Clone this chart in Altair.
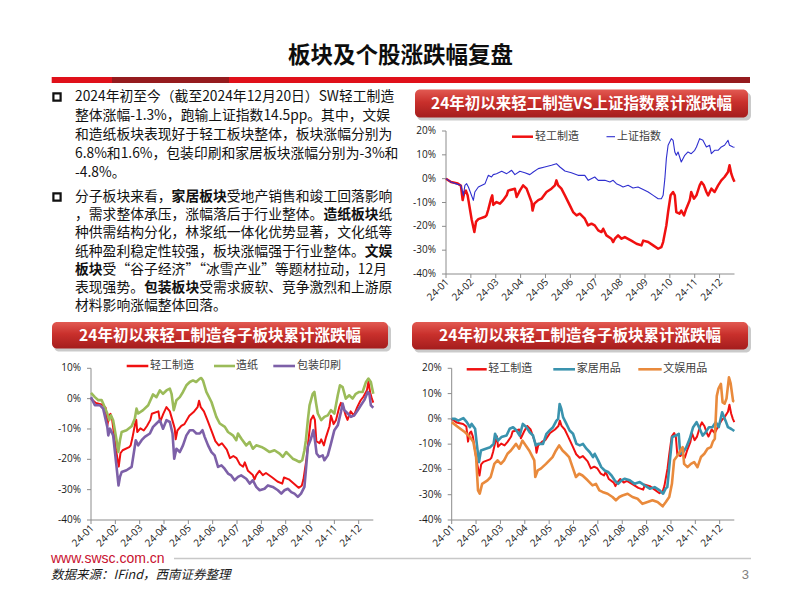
import re
import altair as alt
import pandas as pd

# ------------------------------------------------------------------ data
SLIDE_TITLE = "板块及个股涨跌幅复盘"
HEADER_TITLES = [
    "24年初以来轻工制造VS上证指数累计涨跌幅",
    "24年初以来轻工制造各子板块累计涨跌幅",
    "24年初以来轻工制造各子板块累计涨跌幅",
]
PARA1 = [
    "2024年初至今（截至2024年12月20日）SW轻工制造",
    "整体涨幅-1.3%，跑输上证指数14.5pp。其中，文娱",
    "和造纸板块表现好于轻工板块整体，板块涨幅分别为",
    "6.8%和1.6%，包装印刷和家居板块涨幅分别为-3%和",
    "-4.8%。",
]
PARA2 = [
    "分子板块来看，**家居板块**受地产销售和竣工回落影响",
    "，需求整体承压，涨幅落后于行业整体。**造纸板块**纸",
    "种供需结构分化，林浆纸一体化优势显著，文化纸等",
    "纸种盈利稳定性较强，板块涨幅强于行业整体。**文娱**",
    "**板块**受“谷子经济”“冰雪产业”等题材拉动，12月",
    "表现强势。**包装板块**受需求疲软、竞争激烈和上游原",
    "材料影响涨幅整体回落。",
]
FOOTER_URL = "www.swsc.com.cn"
FOOTER_SOURCE = "数据来源：IFind，西南证券整理"
PAGE_NO = "3"

MONTH_LABELS = ["24-01", "24-02", "24-03", "24-04", "24-05", "24-06",
                "24-07", "24-08", "24-09", "24-10", "24-11", "24-12"]
YTICKS_1 = [-40, -30, -20, -10, 0, 10, 20]
YTICKS_2 = [-40, -30, -20, -10, 0, 10]
YTICKS_3 = [-40, -30, -20, -10, 0, 10, 20]

NAME_LIGHT = "轻工制造"
NAME_SH = "上证指数"
NAME_PAPER = "造纸"
NAME_PACK = "包装印刷"
NAME_HOME = "家居用品"
NAME_ENT = "文娱用品"

# x = months since 2024-01-01 (axis position), y = cumulative change in %
LIGHT_M = [0, 0.2, 0.47, 0.6, 0.67, 0.74, 0.8, 0.87, 1.03, 1.14, 1.21, 1.3, 1.57, 1.63, 1.7, 1.81,
           1.86, 1.9, 2.03, 2.17, 2.3, 2.44, 2.5, 2.77, 2.84, 2.97, 3.1, 3.24, 3.44, 3.48, 3.55, 3.71,
           3.84, 4.04, 4.24, 4.38, 4.44, 4.51, 4.64, 4.78, 4.98, 5.11, 5.25, 5.38, 5.58, 5.71, 5.85,
           5.98, 6.12, 6.25, 6.32, 6.45, 6.65, 6.72, 6.79, 6.92, 7.06, 7.19, 7.45, 7.66, 7.86, 7.93,
           8.13, 8.33, 8.53, 8.66, 8.73, 8.86, 8.93, 9.03, 9.13, 9.2, 9.26, 9.39, 9.46, 9.57, 9.66,
           9.8, 9.86, 9.97, 10.07, 10.2, 10.27, 10.37, 10.47, 10.54, 10.67, 10.8, 10.94, 11.07, 11.2,
           11.34, 11.4, 11.47, 11.54, 11.6]
LIGHT_V = [0, -1.4, -2.0, -3.0, -9.0, -5.6, -5.0, -7.0, -17.0, -22.4, -18.0, -17.0, -16.0, -15.4,
           -13.0, -8.4, -7.0, -11.0, -9.8, -10.5, -9.0, -7.0, -5.0, -4.2, -7.7, -5.0, -2.8, -4.2,
           -9.8, -13.4, -10.5, -9.0, -8.4, -5.6, -4.2, -2.8, -0.7, -2.8, -4.2, -7.0, -11.2, -14.0,
           -15.4, -14.7, -16.8, -19.6, -18.9, -19.6, -21.7, -22.4, -21.0, -23.8, -25.2, -26.6, -25.2,
           -23.8, -25.2, -24.5, -26.0, -27.3, -28.0, -26.0, -26.6, -28.0, -29.4, -28.7, -26.6, -19.6,
           -14.0, -7.0, -5.6, -7.0, -14.0, -14.7, -13.4, -15.4, -12.6, -9.1, -5.6, -8.4, -7.0, -2.8,
           -1.4, -2.8, -5.6, -7.0, -4.2, -5.6, -2.8, -0.7, 0.7, 2.8, 5.6, 2.1, 0.0, -1.3]

SH_M = [0, 0.2, 0.47, 0.6, 0.7, 0.76, 0.83, 0.9, 1.1, 1.16, 1.3, 1.57, 1.7, 1.83, 1.9, 2.03, 2.24,
        2.44, 2.64, 2.77, 2.97, 3.17, 3.37, 3.51, 3.71, 3.97, 4.24, 4.44, 4.58, 4.78, 5.04, 5.31,
        5.58, 5.72, 5.98, 6.12, 6.39, 6.59, 6.72, 6.85, 6.99, 7.12, 7.32, 7.52, 7.72, 7.99, 8.13,
        8.33, 8.53, 8.66, 8.73, 8.8, 8.86, 8.93, 9.06, 9.13, 9.2, 9.26, 9.33, 9.46, 9.6, 9.73, 9.86,
        10.0, 10.07, 10.2, 10.33, 10.47, 10.6, 10.67, 10.8, 10.94, 11.07, 11.2, 11.34, 11.4, 11.54,
        11.6]
SH_V = [0, -1.4, -2.4, -2.8, -7.0, -2.8, -2.1, -3.5, -9.1, -5.6, -3.5, -2.1, 1.4, 0.7, 1.7, 2.1,
        3.1, 2.1, 3.5, 1.7, 3.1, 2.5, 1.7, 2.8, 4.2, 4.9, 5.6, 6.3, 4.9, 3.2, 2.5, 1.4, 1.4, -0.7,
        0.7, -0.7, -0.7, -1.4, -0.7, -2.1, -2.8, -3.5, -2.8, -3.9, -3.5, -4.9, -5.6, -7.0, -8.4,
        -8.4, -7.0, 0.0, 8.4, 14.0, 16.8, 16.1, 11.2, 9.8, 11.2, 7.0, 9.8, 11.2, 10.5, 11.9, 13.3,
        16.8, 16.1, 13.3, 14.0, 10.5, 11.9, 11.9, 13.3, 14.0, 16.1, 14.0, 13.3, 13.2]

PAPER_M = [0, 0.16, 0.3, 0.44, 0.5, 0.67, 0.75, 0.82, 0.91, 1.05, 1.12, 1.19, 1.26, 1.46, 1.67,
           1.8, 1.87, 1.94, 2.14, 2.35, 2.55, 2.69, 2.83, 2.96, 3.1, 3.24, 3.31, 3.4, 3.51, 3.65,
           3.78, 3.92, 4.06, 4.19, 4.32, 4.47, 4.53, 4.6, 4.74, 4.95, 5.15, 5.29, 5.5, 5.63, 5.83,
           5.97, 6.04, 6.18, 6.38, 6.52, 6.65, 6.79, 7.0, 7.13, 7.34, 7.54, 7.75, 7.88, 8.02, 8.16,
           8.29, 8.43, 8.57, 8.68, 8.77, 8.83, 8.91, 8.98, 9.11, 9.18, 9.25, 9.32, 9.46, 9.59, 9.73,
           9.86, 10.0, 10.14, 10.23, 10.34, 10.47, 10.61, 10.75, 10.88, 11.02, 11.16, 11.3, 11.4,
           11.5, 11.6]
PAPER_V = [1.9, 0.5, -0.5, -0.5, -1.6, -4.9, -7.1, -5.5, -7.1, -13.7, -17.6, -13.7, -11.0, -10.4,
           -9.1, -6.6, -3.3, -4.9, -3.8, -2.2, 1.4, 0.5, 2.7, 1.6, 2.7, 3.3, 1.6, -3.8, -0.5, 0.5,
           2.2, 4.4, 5.5, 6.0, 5.5, 6.6, 6.8, 6.0, 2.2, -1.1, -6.0, -8.2, -9.3, -11.0, -12.1, -13.7,
           -11.5, -13.2, -15.4, -14.3, -16.5, -15.4, -15.9, -16.5, -17.6, -17.0, -18.1, -19.2, -17.6,
           -18.7, -19.8, -20.3, -20.9, -20.3, -17.0, -13.7, -7.1, -2.2, 1.6, 2.2, -1.6, -4.9, -7.1,
           -6.0, -5.5, -3.8, -4.9, 1.1, 4.4, 3.8, 0.0, 1.1, 0.0, 1.6, 2.2, 2.2, 5.5, 6.6, 5.5, 1.6]

PACK_M = [0, 0.16, 0.37, 0.5, 0.67, 0.71, 0.78, 0.91, 1.05, 1.13, 1.19, 1.26, 1.46, 1.67, 1.84,
          1.94, 2.08, 2.21, 2.42, 2.55, 2.69, 2.83, 2.96, 3.1, 3.24, 3.35, 3.42, 3.51, 3.65, 3.78,
          3.92, 4.06, 4.19, 4.33, 4.47, 4.58, 4.67, 4.81, 4.95, 5.08, 5.22, 5.36, 5.49, 5.63, 5.76,
          5.9, 6.04, 6.17, 6.38, 6.52, 6.65, 6.79, 6.93, 7.13, 7.27, 7.47, 7.68, 7.82, 7.95, 8.09,
          8.23, 8.36, 8.5, 8.63, 8.77, 8.83, 8.91, 9.04, 9.14, 9.22, 9.27, 9.38, 9.52, 9.59, 9.73,
          9.86, 10.0, 10.14, 10.27, 10.34, 10.41, 10.55, 10.68, 10.82, 10.96, 11.09, 11.23, 11.37,
          11.44, 11.5, 11.6]
PACK_V = [0.5, -2.2, -2.2, -3.3, -9.3, -12.1, -9.9, -12.1, -22.5, -28.6, -25.8, -24.2, -23.6,
          -22.5, -13.7, -15.4, -13.7, -12.6, -11.5, -9.3, -8.2, -7.1, -9.9, -7.1, -7.7, -11.5,
          -19.8, -16.5, -17.6, -15.4, -12.1, -10.4, -10.4, -11.5, -11.5, -10.4, -12.6, -15.4, -17.6,
          -18.7, -22.5, -22.0, -23.1, -24.7, -25.3, -26.9, -25.8, -25.3, -26.4, -28.0, -26.9, -29.1,
          -30.2, -29.7, -28.6, -29.1, -30.2, -31.3, -30.2, -29.7, -30.8, -31.3, -32.4, -31.3, -29.1,
          -23.6, -15.9, -13.2, -10.4, -14.8, -18.1, -19.2, -18.7, -20.3, -18.7, -14.8, -10.4, -8.8,
          -4.4, -1.6, -3.8, -4.9, -6.0, -5.5, -3.8, -2.2, -0.5, 2.2, 1.6, -2.2, -3.0]

HOME_M = [0, 0.14, 0.27, 0.41, 0.48, 0.62, 0.75, 0.82, 0.96, 1.03, 1.12, 1.2, 1.4, 1.58, 1.72,
          1.78, 1.9, 2.04, 2.25, 2.38, 2.52, 2.66, 2.79, 2.92, 3.07, 3.2, 3.34, 3.45, 3.55, 3.75,
          3.89, 4.02, 4.16, 4.3, 4.37, 4.43, 4.5, 4.57, 4.71, 4.84, 4.98, 5.12, 5.26, 5.39, 5.53,
          5.67, 5.8, 5.87, 6.01, 6.14, 6.28, 6.42, 6.56, 6.69, 6.83, 6.97, 7.1, 7.31, 7.51, 7.72,
          7.92, 8.13, 8.33, 8.54, 8.68, 8.78, 8.85, 8.95, 9.05, 9.2, 9.32, 9.38, 9.5, 9.63, 9.77,
          9.91, 10.05, 10.18, 10.3, 10.42, 10.56, 10.7, 10.84, 10.96, 11.1, 11.24, 11.34, 11.48,
          11.6]
HOME_V = [0, 0, -0.7, 0, 0.3, -1.3, -3.3, -2.0, -3.9, -9.9, -17.1, -12.5, -11.8, -11.2, -9.9,
          -5.9, -8.6, -7.2, -6.6, -3.9, -3.3, -4.6, -6.6, -2.0, -3.3, -5.3, -6.6, -10.5, -9.9, -9.9,
          -5.9, -4.6, -3.3, -0.7, 0.0, 5.9, 3.9, 0.7, -2.0, -4.6, -5.9, -9.9, -10.5, -9.9, -11.8,
          -13.2, -15.1, -13.8, -16.4, -19.1, -20.4, -21.0, -22.4, -24.3, -25.7, -24.3, -23.7, -24.3,
          -25.7, -25.0, -26.3, -27.6, -27.0, -28.3, -29.6, -27.6, -27.0, -17.1, -7.2, -6.6, -5.9,
          -13.8, -13.2, -11.2, -7.9, -3.3, -1.3, -3.9, -6.6, -5.3, -3.3, -3.3, -1.3, -3.3, 2.6,
          -0.7, -3.3, -4.0, -4.8]

ENT_M = [0, 0.27, 0.55, 0.75, 0.89, 1.0, 1.08, 1.15, 1.25, 1.47, 1.6, 1.75, 1.88, 2.02, 2.15,
         2.29, 2.43, 2.64, 2.77, 2.9, 3.04, 3.18, 3.39, 3.43, 3.53, 3.66, 3.87, 4.01, 4.14, 4.28,
         4.41, 4.55, 4.69, 4.82, 4.96, 5.1, 5.23, 5.37, 5.58, 5.78, 5.92, 6.06, 6.19, 6.4, 6.6,
         6.74, 6.88, 7.01, 7.22, 7.42, 7.63, 7.83, 8.04, 8.24, 8.45, 8.66, 8.79, 8.93, 9.04, 9.13,
         9.27, 9.48, 9.54, 9.68, 9.82, 9.95, 10.09, 10.23, 10.37, 10.5, 10.64, 10.72, 10.8, 10.88,
         10.95, 11.05, 11.12, 11.2, 11.28, 11.38, 11.45, 11.55, 11.6]
ENT_V = [-1.3, -3.3, -5.3, -7.2, -9.2, -15.1, -28.3, -29.6, -25.7, -24.3, -23.0, -17.8, -16.4,
         -17.8, -16.4, -13.8, -12.5, -9.9, -11.8, -8.6, -10.5, -12.5, -16.4, -23.0, -20.4, -19.7,
         -17.8, -16.4, -15.1, -12.5, -10.5, -12.5, -13.8, -15.1, -19.1, -23.0, -21.7, -22.4, -24.3,
         -26.3, -25.7, -28.3, -28.9, -29.6, -30.9, -32.2, -30.9, -30.3, -29.6, -30.9, -31.6, -33.6,
         -32.9, -32.2, -32.9, -34.6, -32.9, -30.9, -25.7, -16.4, -14.5, -11.2, -17.8, -19.1, -17.8,
         -17.1, -19.1, -15.1, -13.8, -11.8, -11.2, -9.0, -7.9, 9.0, 12.0, 13.8, 6.5, 6.0, 8.0,
         16.4, 14.0, 7.0, 6.8]

# ------------------------------------------------------------------ layout (page pixels)
OFF = 8
W, H = 786, 586


def X(v):
    return v - OFF


def Y(v):
    return v - OFF


ONE = pd.DataFrame({"k": [0]})
CJK = "Noto Sans CJK SC"
XMAX = 11.6

C_RED = "#F01010"
C_BLUE = "#2F2FCF"
C_GREEN = "#9BBB59"
C_PURPLE = "#7D60A8"
C_TEAL = "#3A93AE"
C_ORANGE = "#E98A3C"
AX_COLOR = "#8c8c8c"
TICK_FONT = "Open Sans"


def rect(x0, x1, y0, y1, **kw):
    return alt.Chart(ONE).mark_rect(**kw).encode(
        x=alt.value(X(x0)), x2=alt.value(X(x1)), y=alt.value(Y(y0)), y2=alt.value(Y(y1)))


def hrule(x0, x1, y, color, sw):
    return alt.Chart(ONE).mark_rule(color=color, strokeWidth=sw).encode(
        x=alt.value(X(x0)), x2=alt.value(X(x1)), y=alt.value(Y(y)))


def label(text, x, y, **kw):
    return alt.Chart(pd.DataFrame({"t": [text]})).mark_text(**kw).encode(
        x=alt.value(X(x)), y=alt.value(Y(y)), text="t:N")


def panel(series, x0, x1, ytop, ybot, ydom, yticks):
    xs = alt.Scale(domain=[0, XMAX], range=[X(x0), X(x1)], nice=False, zero=False)
    ys = alt.Scale(domain=ydom, range=[Y(ybot), Y(ytop)], nice=False, zero=False)
    ax, ay = X(x0), Y(ybot)
    layers = []
    # y axis: domain, ticks, labels (positioned through the panel's y scale)
    ydf = pd.DataFrame({"v": yticks, "lab": ["%d%%" % v for v in yticks]})
    span = pd.DataFrame({"a": [ydom[0]], "b": [ydom[1]], "c": [0], "d": [XMAX]})
    layers.append(alt.Chart(span).mark_rule(color=AX_COLOR, strokeWidth=1).encode(
        y=alt.Y("a:Q", scale=ys, axis=None), y2="b:Q", x=alt.value(ax)))
    layers.append(alt.Chart(ydf).mark_rule(color=AX_COLOR, strokeWidth=1).encode(
        y=alt.Y("v:Q", scale=ys, axis=None), x=alt.value(ax - 4), x2=alt.value(ax)))
    layers.append(alt.Chart(ydf).mark_text(font=TICK_FONT, fontSize=10, color="#1a1a1a",
                                           align="right", baseline="middle").encode(
        y=alt.Y("v:Q", scale=ys, axis=None), x=alt.value(ax - 10), text="lab:N"))
    # x axis
    xdf = pd.DataFrame({"m": list(range(len(MONTH_LABELS))), "lab": MONTH_LABELS})
    layers.append(alt.Chart(span).mark_rule(color=AX_COLOR, strokeWidth=1).encode(
        x=alt.X("c:Q", scale=xs, axis=None), x2="d:Q", y=alt.value(ay)))
    layers.append(alt.Chart(xdf).mark_rule(color=AX_COLOR, strokeWidth=1).encode(
        x=alt.X("m:Q", scale=xs, axis=None), y=alt.value(ay), y2=alt.value(ay + 4)))
    layers.append(alt.Chart(xdf).mark_text(font=TICK_FONT, fontSize=10, color="#1a1a1a",
                                           align="right", baseline="middle", angle=315,
                                           dx=2).encode(
        x=alt.X("m:Q", scale=xs, axis=None), y=alt.value(ay + 8), text="lab:N"))
    # series
    for (m, v, color, sw) in series:
        df = pd.DataFrame({"m": m, "v": v})
        layers.append(
            alt.Chart(df).mark_line(color=color, strokeWidth=sw, strokeJoin="round").encode(
                x=alt.X("m:Q", scale=xs, axis=None),
                y=alt.Y("v:Q", scale=ys, axis=None),
            ))
    return alt.layer(*layers)


def header(title, x0, x1, y0, y1, fs):
    grad = alt.LinearGradient(
        gradient="linear", x1=0, x2=0, y1=0, y2=1,
        stops=[alt.GradientStop(offset=0, color="#E25A52"),
               alt.GradientStop(offset=0.45, color="#C9302C"),
               alt.GradientStop(offset=1, color="#A41D1D")])
    return [
        rect(x0 + 2, x1 + 3, y0 + 3, y1 + 3, color="#8a8a8a", opacity=0.45, cornerRadius=5),
        rect(x0, x1, y0, y1, color=grad, cornerRadius=5),
        label(title, (x0 + x1) / 2, (y0 + y1) / 2 + 0.5, font=CJK, fontSize=fs,
              fontWeight="bold", color="white", align="center", baseline="middle"),
    ]


def legend(items, y):
    out = []
    for (name, color, sw, lx0, lx1, tx) in items:
        out.append(hrule(lx0, lx1, y, color, sw))
        out.append(label(name, tx, y, font=CJK, fontSize=11, color="#404040",
                         align="left", baseline="middle"))
    return out


def para_rows(lines, x0, y0, dy, fs):
    """Split each line into normal / **bold** runs; CJK runs are 1em per glyph."""
    rows = []
    for i, line in enumerate(lines):
        n = 0
        for part in re.split(r"(\*\*.+?\*\*)", line):
            if not part:
                continue
            bold = part.startswith("**")
            s = part.strip("*")
            rows.append({"t": s, "b": bold, "x": X(x0 + n * fs), "y": Y(y0 + i * dy)})
            n += len(s)
    return rows


layers = []

# slide title + red bar
layers.append(label(SLIDE_TITLE, 400.5, 55.5, font=CJK, fontSize=22.5, fontWeight="bold",
                    color="#0d0d0d", align="center", baseline="middle"))
layers.append(rect(51.7, 750, 77, 83, color="#E0101A"))
layers.append(rect(112, 229, 77, 83, color="#951B1E"))
layers.append(rect(700, 750, 77, 83, color="#951B1E"))

# text block
FS = 13.8
rows = para_rows(PARA1, 75, 97, 19, FS) + para_rows(PARA2, 75, 197, 18.2, FS)
tdf = pd.DataFrame(rows)
for bold in (False, True):
    sub = tdf[tdf["b"] == bold]
    layers.append(
        alt.Chart(sub).mark_text(font=CJK, fontSize=FS, fontWeight="bold" if bold else "normal",
                                 color="#111111", align="left", baseline="middle").encode(
            x=alt.X("x:Q", scale=None, axis=None),
            y=alt.Y("y:Q", scale=None, axis=None),
            text="t:N"))
bul = pd.DataFrame({"x": [X(57), X(57)], "y": [Y(97), Y(197)]})
layers.append(alt.Chart(bul).mark_point(shape="square", filled=False, size=52, strokeWidth=2.2,
                                        color="#111111", opacity=1).encode(
    x=alt.X("x:Q", scale=None, axis=None), y=alt.Y("y:Q", scale=None, axis=None)))

# headers
layers += header(HEADER_TITLES[0], 415, 748, 89.5, 117.5, 15.5)
layers += header(HEADER_TITLES[1], 52, 388, 322, 348.5, 15.5)
layers += header(HEADER_TITLES[2], 412, 748, 322, 349.5, 15.5)

# panels
layers.append(panel([(LIGHT_M, LIGHT_V, C_RED, 2.5), (SH_M, SH_V, C_BLUE, 1.1)],
                    446, 734.5, 131, 274, [-40, 20], YTICKS_1))
layers.append(panel([(LIGHT_M, LIGHT_V, C_RED, 2.0), (PAPER_M, PAPER_V, C_GREEN, 2.6),
                     (PACK_M, PACK_V, C_PURPLE, 2.6)],
                    91, 373.3, 368.3, 520, [-40, 10], YTICKS_2))
layers.append(panel([(LIGHT_M, LIGHT_V, C_RED, 2.0), (HOME_M, HOME_V, C_TEAL, 2.6),
                     (ENT_M, ENT_V, C_ORANGE, 2.6)],
                    451.7, 734.3, 368.3, 520, [-40, 20], YTICKS_3))

# legends
layers += legend([(NAME_LIGHT, C_RED, 2.5, 512, 533, 535),
                  (NAME_SH, C_BLUE, 1.1, 606.5, 615, 617)], 136.7)
layers += legend([(NAME_LIGHT, C_RED, 2.5, 126.7, 148.3, 150),
                  (NAME_PAPER, C_GREEN, 2.6, 214, 235, 236),
                  (NAME_PACK, C_PURPLE, 2.6, 273.3, 295, 297)], 366)
layers += legend([(NAME_LIGHT, C_RED, 2.5, 466.7, 486.7, 488.3),
                  (NAME_HOME, C_TEAL, 2.6, 553.3, 575, 576.7),
                  (NAME_ENT, C_ORANGE, 2.6, 638.3, 661.7, 663.3)], 369.3)

# footer
layers.append(label(FOOTER_URL, 51, 558.5, font="Liberation Sans", fontSize=14,
                    color="#C8102E", align="left", baseline="middle"))
layers.append(hrule(174, 751, 558.5, "#C8C8C8", 1.5))
layers.append(label(FOOTER_SOURCE, 51, 575, font=CJK, fontSize=12.5, fontStyle="italic",
                    color="#1a1a1a", align="left", baseline="middle"))
layers.append(label(PAGE_NO, 749, 575, font="Liberation Sans", fontSize=13,
                    color="#7f7f7f", align="right", baseline="middle"))

chart = alt.layer(*layers).resolve_scale(
    x="independent", y="independent"
).properties(
    width=W, height=H, padding=0, background="white",
    autosize=alt.AutoSizeParams(type="none"),
).configure_view(stroke=None)

chart.save("out.html", embed_options={"renderer": "svg", "actions": False})
